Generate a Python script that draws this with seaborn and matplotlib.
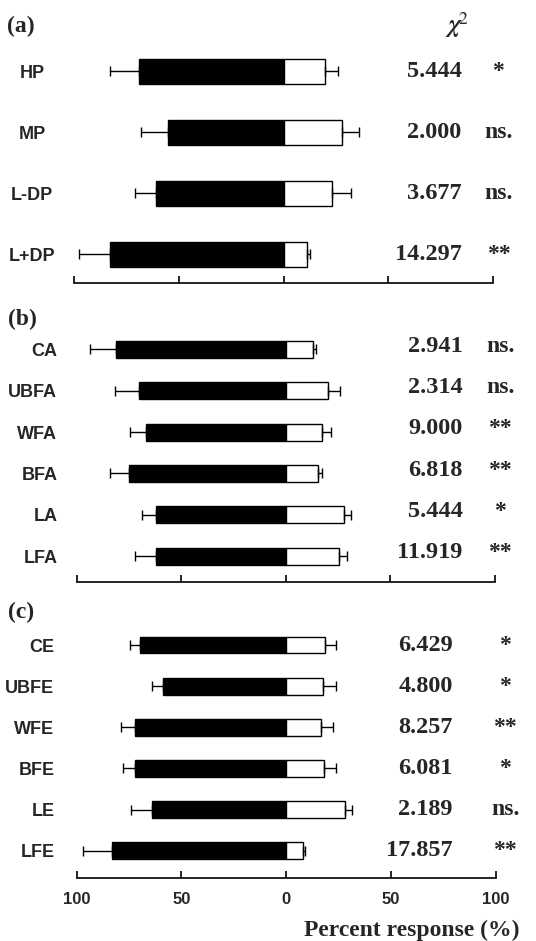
import numpy as np
import pandas as pd
import matplotlib
matplotlib.use('Agg')
import matplotlib.pyplot as plt
import seaborn as sns

# panel (a)
a_labels = ['HP', 'MP', 'L-DP', 'L+DP']
a_black = [69, 55, 61, 83]
a_black_err = [14, 13, 10, 14.5]
a_white = [20, 28, 23, 11]
a_white_err = [6, 8, 9, 1.5]
a_chi = ['5.444', '2.000', '3.677', '14.297']
a_sig = ['*', 'ns.', 'ns.', '**']

# panel (b)
b_labels = ['CA', 'UBFA', 'WFA', 'BFA', 'LA', 'LFA']
b_black = [81, 70, 67, 75, 62, 62]
b_black_err = [12.5, 11.5, 7.5, 9, 7, 10]
b_white = [13, 20, 17.5, 15.5, 28, 25.5]
b_white_err = [1.2, 6, 4, 2, 3, 3.5]
b_chi = ['2.941', '2.314', '9.000', '6.818', '5.444', '11.919']
b_sig = ['ns.', 'ns.', '**', '**', '*', '**']

# panel (c)
c_labels = ['CE', 'UBFE', 'WFE', 'BFE', 'LE', 'LFE']
c_black = [70, 59, 72, 72, 64, 83]
c_black_err = [4.5, 5, 7, 6, 10, 14]
c_white = [18.5, 17.5, 16.5, 18, 28, 8]
c_white_err = [5.3, 6.4, 6, 5.7, 3.6, 1]
c_chi = ['6.429', '4.800', '8.257', '6.081', '2.189', '17.857']
c_sig = ['*', '*', '**', '*', 'ns.', '**']

ticks = [-100, -50, 0, 50, 100]
tick_labels = ['100', '50', '0', '50', '100']

sns.set_style('white')
plt.rcParams['font.family'] = ['Liberation Sans', 'DejaVu Sans']
plt.rcParams['mathtext.fontset'] = 'stix'

W, H = 536, 941
fig = plt.figure(figsize=(W / 100, H / 100), dpi=100)

SANS = dict(family='Liberation Sans', weight='bold')
SERIF = dict(family='Liberation Serif', weight='bold')


def box(left, right, top, bottom):
    return [left / W, 1 - bottom / H, (right - left) / W, (bottom - top) / H]


def panel(rect, labels, black, black_err, white, white_err, chi, sig,
          ylim, chi_x, sig_x, txt_dy, lab_ha, lab_pad, show_ticks):
    ax = fig.add_axes(rect)
    n = len(labels)
    df = pd.DataFrame({
        'label': labels * 2,
        'value': [-v for v in black] + list(white),
        'side': ['avoid'] * n + ['prefer'] * n,
    })
    sns.barplot(data=df, x='value', y='label', hue='side', order=labels,
                palette={'avoid': 'black', 'prefer': 'white'}, dodge=False,
                width=0.41, edgecolor='black', linewidth=1.0, legend=False,
                orient='h', ax=ax)
    pos = np.arange(n)
    ax.errorbar([-v for v in black], pos, xerr=[black_err, [0] * n],
                fmt='none', ecolor='black', elinewidth=1.0, capsize=3.5,
                capthick=1.0)
    ax.errorbar(white, pos, xerr=[[0] * n, white_err],
                fmt='none', ecolor='black', elinewidth=1.0, capsize=3.5,
                capthick=1.0)
    for i in range(n):
        ax.text(chi_x, i + txt_dy, chi[i], ha='right', va='center',
                fontsize=17.5, **SERIF)
        ax.text(sig_x, i + txt_dy, sig[i], ha='center', va='center',
                fontsize=17, **SERIF)
    ax.set_xlim(-100, 100)
    ax.set_ylim(*ylim)
    ax.set_xlabel('')
    ax.set_ylabel('')
    for s in ['top', 'left', 'right']:
        ax.spines[s].set_visible(False)
    ax.spines['bottom'].set_color('black')
    ax.spines['bottom'].set_linewidth(1.2)
    ax.set_xticks(ticks)
    ax.tick_params(axis='x', bottom=True, direction='in', length=5,
                   width=1.2, color='black', pad=10, labelbottom=show_ticks)
    if show_ticks:
        ax.set_xticklabels(tick_labels, fontsize=12, **SANS)
    ax.tick_params(axis='y', left=False, length=0, pad=lab_pad)
    ax.set_yticks(pos)
    ax.set_yticklabels(labels, fontsize=13, ha=lab_ha, **SANS)
    return ax


panel(box(74, 493, 40, 283), a_labels, a_black, a_black_err, a_white,
      a_white_err, a_chi, a_sig, (3.475, -0.51), 85, 102.6, 0,
      'center', 30, False)
panel(box(76.7, 495, 325, 581.7), b_labels, b_black, b_black_err, b_white,
      b_white_err, b_chi, b_sig, (5.62, -0.59), 84.5, 102.4, -0.08,
      'right', 14, False)
panel(box(76.7, 495.7, 622, 878.3), c_labels, c_black, c_black_err, c_white,
      c_white_err, c_chi, c_sig, (5.67, -0.56), 79.6, 104.5, 0,
      'right', 16, True)

fig.text(7 / W, 1 - 26 / H, '(a)', ha='left', va='center', fontsize=17, **SERIF)
fig.text(8 / W, 1 - 319 / H, '(b)', ha='left', va='center', fontsize=17, **SERIF)
fig.text(8 / W, 1 - 612 / H, '(c)', ha='left', va='center', fontsize=17, **SERIF)
fig.text(457 / W, 1 - 25 / H, r'$\boldsymbol{\chi}^{2}$', ha='center',
         va='center', fontsize=18)
fig.text(520 / W, 1 - 930 / H, 'Percent response (%)', ha='right',
         va='center', fontsize=17, **SERIF)

fig.savefig('out.png', dpi=100)
